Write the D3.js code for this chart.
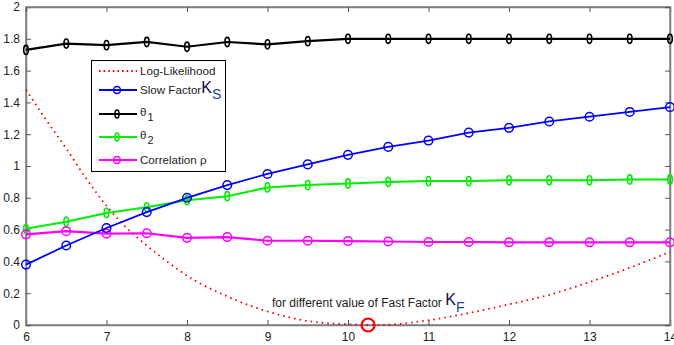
<!DOCTYPE html>
<html><head><meta charset="utf-8">
<script src="https://cdn.jsdelivr.net/npm/d3@7"></script>
<style>body{margin:0;background:#fff}svg{display:block;font-family:Arial,"Liberation Sans",sans-serif}</style>
</head><body><svg id="c" width="674" height="345"></svg>
<script>
const xTicks = [6,7,8,9,10,11,12,13,14];
const yTicks = [0,0.2,0.4,0.6,0.8,1,1.2,1.4,1.6,1.8,2];
const yTickLabels = ["0","0.2","0.4","0.6","0.8","1","1.2","1.4","1.6","1.8","2"];
const kF = [6,6.5,7,7.5,8,8.5,9,9.5,10,10.5,11,11.5,12,12.5,13,13.5,14];
const slowFactor = [0.38,0.50,0.61,0.71,0.80,0.88,0.95,1.01,1.07,1.12,1.16,1.21,1.24,1.28,1.31,1.34,1.37];
const theta1 = [1.73,1.77,1.76,1.78,1.75,1.78,1.765,1.785,1.80,1.80,1.80,1.80,1.80,1.80,1.80,1.80,1.80];
const theta2 = [0.605,0.65,0.705,0.74,0.785,0.81,0.865,0.88,0.89,0.90,0.905,0.905,0.91,0.91,0.91,0.915,0.915];
const correlation = [0.57,0.59,0.575,0.577,0.548,0.553,0.53,0.53,0.528,0.525,0.522,0.522,0.52,0.52,0.52,0.52,0.52];
const llX = [6,6.25,6.5,6.75,7,7.25,7.5,7.75,8,8.5,9,9.5,10,10.25,10.5,11,11.5,12,12.5,13,13.5,14];
const logLik = [1.48,1.29,1.11,0.92,0.75,0.61,0.50,0.40,0.31,0.18,0.085,0.025,0.004,0,0.002,0.03,0.075,0.13,0.19,0.27,0.36,0.46];
const optimumKF = 10.25;

const svg = d3.select("#c");
const L=26, R=670, T=7, B=325;
const x = d3.scaleLinear().domain([6,14]).range([L,R]);
const y = d3.scaleLinear().domain([0,2]).range([B,T]);
const gray="#7f7f7f";

svg.append("rect").attr("x",L).attr("y",T).attr("width",R-L).attr("height",B-T)
  .attr("fill","none").attr("stroke",gray).attr("stroke-width",1.5);

const xa = svg.append("g").attr("transform",`translate(0,${B})`)
  .call(d3.axisBottom(x).tickValues(xTicks).tickSize(-5).tickPadding(7).tickFormat(d3.format("d")));
const ya = svg.append("g").attr("transform",`translate(${L},0)`)
  .call(d3.axisLeft(y).tickValues(yTicks).tickSize(-5).tickPadding(6).tickFormat((d,i)=>yTickLabels[i]));
const xt = svg.append("g").attr("transform",`translate(0,${T})`)
  .call(d3.axisTop(x).tickValues(xTicks).tickSize(-5).tickFormat(""));
const yr = svg.append("g").attr("transform",`translate(${R},0)`)
  .call(d3.axisRight(y).tickValues(yTicks).tickSize(-5).tickFormat(""));
[xa,ya,xt,yr].forEach(g=>{
  g.select(".domain").attr("stroke",gray).attr("stroke-width",1.5);
  g.selectAll(".tick line").attr("stroke","#555");
  g.selectAll("text").attr("font-size",12).attr("fill","#222").attr("font-family","Arial, 'Liberation Sans', sans-serif");
});

const line = (xs,ys)=>d3.line().x((d,i)=>x(xs[i])).y(d=>y(d))(ys);

svg.append("path").attr("d",d3.line().x((d,i)=>x(llX[i])).y(d=>y(d)).curve(d3.curveMonotoneX)(logLik))
  .attr("fill","none").attr("stroke","#ff0000").attr("stroke-width",1.8).attr("stroke-dasharray","1.6,4");

function series(vals,color,marker,w){
  svg.append("path").attr("d",line(kF,vals)).attr("fill","none").attr("stroke",color).attr("stroke-width",w);
  const g=svg.append("g");
  kF.forEach((k,i)=>{
    if(marker==="o") g.append("circle").attr("cx",x(k)).attr("cy",y(vals[i])).attr("r",4.3)
      .attr("fill","none").attr("stroke",color).attr("stroke-width",1.5);
    else g.append("ellipse").attr("cx",x(k)).attr("cy",y(vals[i])).attr("rx",2.3).attr("ry",4.6)
      .attr("fill","none").attr("stroke",color).attr("stroke-width",1.6);
  });
}
series(theta2,"#00ee00","d",2);
series(correlation,"#ff00ff","o",2.2);
series(slowFactor,"#0000ff","o",1.8);
series(theta1,"#000000","d",2.2);

svg.append("circle").attr("cx",x(optimumKF)).attr("cy",y(0)).attr("r",6.5)
  .attr("fill","none").attr("stroke","#ff0000").attr("stroke-width",2.2);

const ann = svg.append("text").attr("x",272).attr("y",307).attr("font-size",12).attr("fill","#222");
ann.append("tspan").text("for different value of Fast Factor ");
ann.append("tspan").attr("font-size",16).attr("fill","#10104a").attr("dy",-2).text("K");
ann.append("tspan").attr("font-size",14).attr("fill","#1a3ea8").attr("dy",7).text("F");

const lg = svg.append("g");
lg.append("rect").attr("x",91.5).attr("y",60.5).attr("width",134).attr("height",111)
  .attr("fill","#fff").attr("stroke","#000").attr("stroke-width",1);
const items=[
  {c:"#ff0000",m:null,y:71,dash:"1.6,3"},
  {c:"#0000ff",m:"o",y:90},
  {c:"#000000",m:"d",y:114},
  {c:"#00ee00",m:"d",y:137},
  {c:"#ff00ff",m:"o",y:160}
];
items.forEach(it=>{
  lg.append("line").attr("x1",99).attr("x2",137).attr("y1",it.y).attr("y2",it.y)
    .attr("stroke",it.c).attr("stroke-width",it.m?2:1.8).attr("stroke-dasharray",it.dash||null);
  if(it.m==="o") lg.append("circle").attr("cx",117).attr("cy",it.y).attr("r",3.5).attr("fill","none").attr("stroke",it.c).attr("stroke-width",1.5);
  if(it.m==="d") lg.append("ellipse").attr("cx",117).attr("cy",it.y).attr("rx",2).attr("ry",4).attr("fill","none").attr("stroke",it.c).attr("stroke-width",1.6);
});
const tx=140, fs=11.6;
lg.append("text").attr("x",tx).attr("y",75).attr("font-size",fs).attr("fill","#222").text("Log-Likelihood");
const t2=lg.append("text").attr("x",tx).attr("y",94).attr("font-size",fs).attr("fill","#222");
t2.append("tspan").text("Slow Factor");
t2.append("tspan").attr("font-size",16).attr("fill","#10104a").attr("dy",-1).text("K");
t2.append("tspan").attr("font-size",14).attr("fill","#1a3ea8").attr("dy",6).text("S");
const t3=lg.append("text").attr("x",tx).attr("y",116).attr("font-size",fs).attr("fill","#222");
t3.append("tspan").text("θ");
t3.append("tspan").attr("font-size",11).attr("dx",1).attr("dy",5).text("1");
const t4=lg.append("text").attr("x",tx).attr("y",139).attr("font-size",fs).attr("fill","#222");
t4.append("tspan").text("θ");
t4.append("tspan").attr("font-size",11).attr("dx",1).attr("dy",5).text("2");
lg.append("text").attr("x",tx).attr("y",164).attr("font-size",fs).attr("fill","#222").text("Correlation ρ");
</script></body></html>
